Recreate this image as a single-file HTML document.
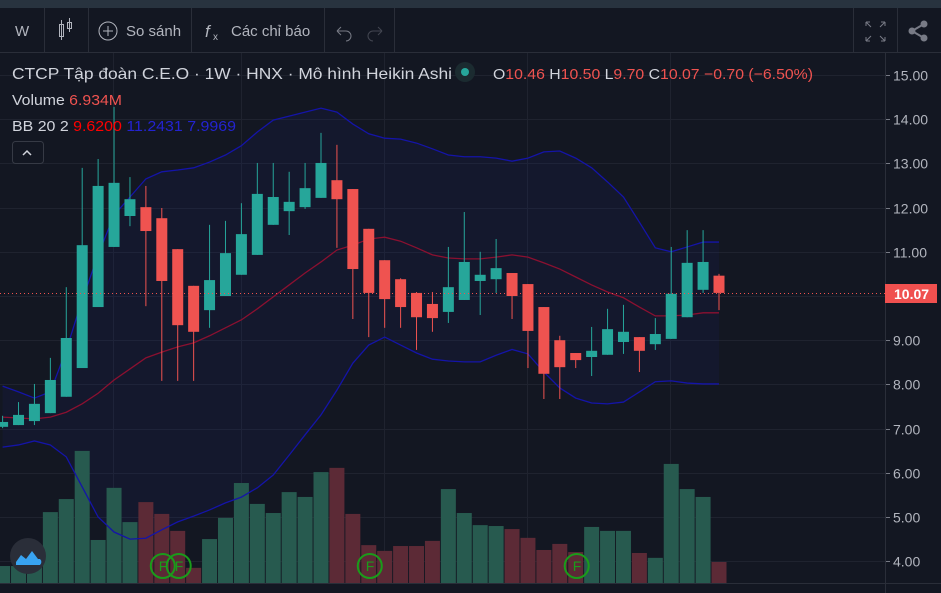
<!DOCTYPE html>
<html><head><meta charset="utf-8">
<style>
body{margin:0;width:941px;height:593px;overflow:hidden;background:#131722;font-family:"Liberation Sans","Noto Sans CJK SC",sans-serif;}
svg{display:block}
</style></head><body>
<svg id="c" width="941" height="593" xmlns="http://www.w3.org/2000/svg">
<rect x="0" y="0" width="941" height="593" fill="#131722"/>
<rect x="0" y="0" width="941" height="8" fill="#28333f"/>
<g id="toolbar">
<line x1="0" y1="52.5" x2="941" y2="52.5" stroke="#2a2e39"/>
<g stroke="#2a2e39"><line x1="44.5" y1="8" x2="44.5" y2="52"/><line x1="88.5" y1="8" x2="88.5" y2="52"/><line x1="191.5" y1="8" x2="191.5" y2="52"/><line x1="324.5" y1="8" x2="324.5" y2="52"/><line x1="394.5" y1="8" x2="394.5" y2="52"/><line x1="853.5" y1="8" x2="853.5" y2="52"/><line x1="897.5" y1="8" x2="897.5" y2="52"/></g>
<text x="15" y="36" fill="#b2b5be" font-size="15">W</text>
<g stroke="#b2b5be" fill="none"><rect x="59.5" y="24.5" width="4" height="12"/><line x1="61.5" y1="20" x2="61.5" y2="40"/><rect x="67.5" y="22.5" width="4" height="6"/><line x1="69.5" y1="18" x2="69.5" y2="32"/></g>
<g><circle cx="108" cy="31" r="9" stroke="#b2b5be" fill="none"/><path d="M103 31h10M108 26v10" stroke="#b2b5be"/><text x="126" y="36" fill="#b2b5be" font-size="15">So sánh</text></g>
<g><text x="205" y="37" fill="#b2b5be" font-size="17" font-style="italic">f</text><text x="213" y="40" fill="#b2b5be" font-size="10">x</text><text x="231" y="36" fill="#b2b5be" font-size="15">Các chỉ báo</text></g>
<path d="M337 31h9a5 5 0 0 1 0 10M337 31l4-4M337 31l4 4" stroke="#787b86" fill="none"/>
<path d="M382 31h-9a5 5 0 0 0 0 10M382 31l-4-4M382 31l-4 4" stroke="#434651" fill="none"/>
<path d="M866 22l5 5M866 22h4M866 22v4M885 22l-5 5M885 22h-4M885 22v4M866 41l5-5M866 41h4M866 41v-4M885 41l-5-5M885 41h-4M885 41v-4" stroke="#787b86" fill="none"/>
<g fill="#787b86"><circle cx="924" cy="24" r="3.5"/><circle cx="912" cy="31" r="3.5"/><circle cx="924" cy="38" r="3.5"/><path d="M924 24L912 31L924 38" stroke="#787b86" stroke-width="2" fill="none"/></g>
</g>
<g id="grid"></g>
<g id="bbfill"></g>
<g id="vol"></g>
<g id="bb"></g>
<g id="candles"></g>
<line x1="0" y1="293.5" x2="885" y2="293.5" stroke="#ef5350" stroke-dasharray="1 3"/>
<g id="axis"></g>
<line x1="885.5" y1="53" x2="885.5" y2="593" stroke="#2a2e39"/>
<line x1="0" y1="583.5" x2="941" y2="583.5" stroke="#2a2e39"/>
<g><rect x="885" y="284" width="52" height="19" fill="#f0504f"/><text x="894" y="299" fill="#fff" font-size="14" font-weight="bold">10.07</text></g>
<g font-size="16">
<text x="12" y="79" fill="#d1d4dc" textLength="440" lengthAdjust="spacingAndGlyphs">CTCP Tập đoàn C.E.O · 1W · HNX · Mô hình Heikin Ashi</text>
<circle cx="465" cy="72" r="10" fill="#1b2b30"/><circle cx="465" cy="72" r="4" fill="#26a69a"/>
<text x="493" y="79" fill="#d1d4dc" font-size="15" textLength="320" lengthAdjust="spacingAndGlyphs">O<tspan fill="#ef5350">10.46</tspan> H<tspan fill="#ef5350">10.50</tspan> L<tspan fill="#ef5350">9.70</tspan> C<tspan fill="#ef5350">10.07</tspan> <tspan fill="#ef5350">−0.70 (−6.50%)</tspan></text>
<text x="12" y="105" fill="#d1d4dc" font-size="15" textLength="110" lengthAdjust="spacingAndGlyphs">Volume <tspan fill="#ef5350">6.934M</tspan></text>
<text x="12" y="131" fill="#d1d4dc" font-size="15" textLength="224" lengthAdjust="spacingAndGlyphs">BB 20 2 <tspan fill="#ff0000">9.6200</tspan> <tspan fill="#2323d0">11.2431</tspan> <tspan fill="#2323d0">7.9969</tspan></text>
</g>
<g><rect x="12.5" y="141.5" width="31" height="22" rx="3" fill="#131722" stroke="#363a45"/><path d="M23 155l4-4 4 4" stroke="#d1d4dc" stroke-width="1.5" fill="none"/></g>
<g id="markers"></g>
<g><circle cx="28" cy="556" r="18" fill="#2a2e39"/><path d="M16 562l5-7 5 4 6-8 6 8h2a4 4 0 0 1 0 6H16z" fill="#38a3f1"/></g>
</svg>
<script>
const opens=[7.04,7.08,7.17,7.35,7.72,8.37,9.75,11.11,11.81,12.01,11.76,11.06,10.23,9.68,10.00,10.48,10.93,11.61,11.92,12.01,12.22,12.62,12.42,11.52,10.81,10.38,10.07,9.82,9.64,9.91,10.34,10.38,10.52,10.27,9.75,9.00,8.71,8.62,8.67,8.96,9.07,8.91,9.03,9.52,10.14,10.46];
const closes=[7.15,7.31,7.56,8.10,9.05,11.15,12.49,12.56,12.19,11.47,10.34,9.34,9.19,10.36,10.97,11.40,12.31,12.24,12.13,12.44,13.01,12.19,10.61,10.07,9.93,9.75,9.52,9.50,10.20,10.77,10.48,10.63,10.00,9.21,8.24,8.39,8.55,8.76,9.25,9.19,8.76,9.14,10.05,10.75,10.77,10.07];
const highs=[7.29,7.60,8.01,8.60,10.20,12.90,13.10,14.28,12.69,12.49,11.99,11.06,10.23,11.61,11.70,12.10,13.01,13.01,12.81,13.01,13.69,13.42,12.42,11.52,10.81,10.40,10.09,10.09,11.11,11.90,11.00,11.29,10.52,10.27,9.75,9.10,8.71,9.30,9.71,9.80,9.07,9.50,11.11,11.49,11.49,10.50];
const lows=[7.01,7.08,7.08,7.35,7.72,8.37,9.75,11.11,11.58,9.77,8.08,8.08,8.08,9.28,10.00,10.48,10.93,11.61,11.38,11.97,12.22,11.09,9.48,9.07,9.28,9.28,8.78,9.19,9.39,9.91,9.57,10.07,9.48,8.37,7.67,7.67,8.37,8.19,8.67,8.69,8.28,8.78,9.03,9.52,10.07,9.68];
const volumes=[5.6,5.6,5.6,23.4,27.7,43.6,14.2,31.4,20.1,26.7,22.8,17.2,5.0,14.5,21.5,33.0,26.1,23.1,30.0,28.4,36.6,38.0,22.8,12.5,10.6,12.2,12.2,13.9,31.0,23.1,19.1,18.8,17.8,14.9,10.9,12.9,10.2,18.5,17.2,17.2,9.9,8.3,39.3,31.0,28.4,6.934];
const bbUpper=[7.96,7.83,7.69,7.83,8.78,9.91,10.93,11.83,12.24,12.65,12.81,12.85,12.90,13.03,13.19,13.40,13.71,13.98,14.07,14.16,14.25,14.16,13.89,13.67,13.57,13.55,13.46,13.33,13.19,13.15,13.15,13.12,13.05,13.12,13.26,13.28,13.12,12.90,12.58,12.24,11.67,11.09,11.00,11.11,11.22,11.22];
const bbBasis=[7.26,7.24,7.22,7.26,7.37,7.56,7.80,8.10,8.35,8.60,8.73,8.85,8.94,9.10,9.28,9.46,9.71,9.98,10.25,10.52,10.77,11.04,11.15,11.29,11.33,11.24,11.09,10.93,10.86,10.84,10.84,10.88,10.93,10.88,10.75,10.61,10.43,10.25,10.09,9.96,9.75,9.55,9.55,9.57,9.62,9.62];
const bbLower=[6.58,6.63,6.72,6.63,6.36,5.68,5.00,4.66,4.50,4.52,4.71,4.89,5.02,5.16,5.32,5.45,5.66,5.95,6.40,6.86,7.31,7.87,8.48,8.89,9.07,8.89,8.71,8.57,8.53,8.51,8.51,8.66,8.79,8.69,8.28,7.92,7.69,7.58,7.56,7.60,7.83,8.06,8.08,8.03,8.01,8.01];
const priceTicks=["15.00","14.00","13.00","12.00","11.00","10.00","9.00","8.00","7.00","6.00","5.00","4.00"];
const markerIdx=[10,11,23,36];

const NS="http://www.w3.org/2000/svg";
function X(i){return 2.6+15.92*i;}
function Y(p){return 75+(15-p)*44.2;}
function VY(v){return 583-v*3.03;}
function mk(tag,attrs,parent){const e=document.createElementNS(NS,tag);for(const k in attrs)e.setAttribute(k,attrs[k]);parent.appendChild(e);return e;}
const grid=document.getElementById('grid'),axis=document.getElementById('axis');
priceTicks.forEach(t=>{const y=Math.round(Y(parseFloat(t)))+0.5;
 const l=mk('line',{x1:0,y1:y,x2:885,y2:y,stroke:'#1f232f'},grid);
 
 
 mk('line',{x1:885,y1:y,x2:890,y2:y,stroke:'#787b86'},axis);
 const tx=mk('text',{x:893,y:y+5,fill:'#b2b5be','font-size':14},axis);tx.textContent=t;
 
 
});
[113,241,384,527,670].forEach(x=>{const l=mk('line',{x1:x+0.5,y1:53,x2:x+0.5,y2:583,stroke:'#1f232f'},grid);
 
 });
const n=closes.length;
let up=[],lo=[];for(let i=0;i<n;i++){up.push(X(i)+','+Y(bbUpper[i]));lo.push(X(i)+','+Y(bbLower[i]));}
const f=mk('polygon',{points:up.concat(lo.reverse()).join(' '),fill:'rgba(33,40,150,0.1)'},document.getElementById('bbfill'));


const vg=document.getElementById('vol');
for(let i=0;i<n;i++){const g=closes[i]>=opens[i];const y=VY(volumes[i]);
 const r=mk('rect',{x:X(i)-7.5,y:y,width:15,height:583-y,fill:g?'#275a4f':'#5c2a36'},vg);
 
 }
const bb=document.getElementById('bb');
[[bbUpper,'#1414a8','bb-upper-line'],[bbBasis,'#8b1030','bb-basis-line'],[bbLower,'#1414a8','bb-lower-line']].forEach(([a,c,nm])=>{
 const p=mk('polyline',{points:a.map((v,i)=>X(i)+','+Y(v)).join(' '),fill:'none',stroke:c,'stroke-width':1.3},bb);
 
 });
const cg=document.getElementById('candles');
for(let i=0;i<n;i++){const g=closes[i]>=opens[i];const col=g?'#26a69a':'#ef5350';const x=X(i);
 const grp=mk('g',{},cg);
 
 
 mk('line',{x1:x,y1:Y(highs[i]),x2:x,y2:Y(lows[i]),stroke:col,'stroke-width':1},grp);
 const t=Y(Math.max(opens[i],closes[i])),b=Y(Math.min(opens[i],closes[i]));
 mk('rect',{x:x-5.5,y:t,width:11,height:Math.max(1,b-t),fill:col},grp);}
const mg=document.getElementById('markers');
markerIdx.forEach(i=>{const x=X(i)+1;const c=mk('circle',{cx:x,cy:566,r:12,fill:'none',stroke:'#1a9c1a','stroke-width':2},mg);
 
 
 const t=mk('text',{x:x-4,y:571,fill:'#1a9c1a','font-size':14},mg);t.textContent='F';});
</script>
</body></html>
